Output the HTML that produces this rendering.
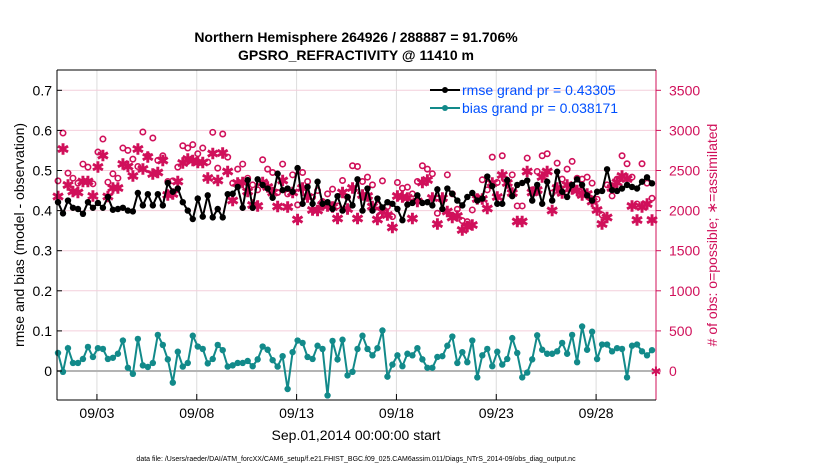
<!DOCTYPE html>
<html><head><meta charset="utf-8"><style>
body{margin:0;background:#fff;}
svg text{font-family:"Liberation Sans",sans-serif;}
</style></head><body>
<svg id="chart" width="830" height="470" xmlns="http://www.w3.org/2000/svg">
<rect width="830" height="470" fill="#fff"/>
<text x="356" y="42" text-anchor="middle" font-size="14" font-weight="bold">Northern Hemisphere 264926 / 288887 = 91.706%</text>
<text x="356" y="60" text-anchor="middle" font-size="14" font-weight="bold">GPSRO_REFRACTIVITY @ 11410 m</text>
<g id="grid"></g>
<g id="marks"></g>
<g id="axes"></g>
<text transform="translate(24,235) rotate(-90)" text-anchor="middle" font-size="14">rmse and bias (model - observation)</text>
<text transform="translate(717,235) rotate(-90)" text-anchor="middle" font-size="14" fill="#d0105a"># of obs: o=possible; ∗=assimilated</text>
<text x="356" y="440" text-anchor="middle" font-size="14">Sep.01,2014 00:00:00 start</text>
<text x="356" y="461" text-anchor="middle" font-size="7">data file: /Users/raeder/DAI/ATM_forcXX/CAM6_setup/f.e21.FHIST_BGC.f09_025.CAM6assim.011/Diags_NTrS_2014-09/obs_diag_output.nc</text>
<g>
<line x1="430" y1="90" x2="460" y2="90" stroke="#000" stroke-width="2"/><circle cx="445" cy="90" r="3" fill="#000"/>
<text x="462" y="95" font-size="14" fill="#0050ff">rmse grand pr = 0.43305</text>
<line x1="430" y1="108" x2="460" y2="108" stroke="#128a8a" stroke-width="2"/><circle cx="445" cy="108" r="3" fill="#128a8a"/>
<text x="462" y="113" font-size="14" fill="#0050ff">bias grand pr = 0.038171</text>
</g>
</svg>
<script>
const rmse=[.421,.393,.425,.407,.404,.392,.421,.407,.419,.407,.434,.402,.404,.407,.400,.398,.444,.413,.441,.413,.441,.413,.469,.447,.455,.421,.400,.379,.430,.385,.438,.383,.404,.383,.441,.442,.459,.407,.476,.407,.478,.464,.455,.432,.492,.451,.455,.447,.506,.417,.459,.417,.472,.417,.421,.404,.436,.400,.434,.413,
.478,.400,.455,.400,.430,.408,.421,.417,.404,.376,.415,.419,.438,.419,.421,.413,.453,.404,.455,.442,.425,.413,.434,.444,.425,.430,.485,.461,.417,.417,.476,.436,.464,.469,.475,.425,.464,.417,.472,.425,.497,.447,.434,.464,.478,.464,.438,.425,.447,.449,.503,.451,.449,.455,.464,.459,.455,.472,.483,.468];
const bias=[.045,-.002,.057,.020,.020,.030,.060,.035,.057,.055,.030,.033,.043,.076,.008,-.007,.080,.014,.010,.020,.090,.065,.029,-.029,.048,.011,.020,.088,.061,.055,.019,.030,.065,.052,.011,.014,.020,.020,.025,.012,.029,.061,.053,.027,.011,.037,-.045,.047,.076,.070,.035,.030,.063,.055,-.061,.075,.029,.078,-.011,-.002,
.055,.088,.055,.039,.057,.101,-.014,.016,.039,.012,.043,.039,.057,.029,.008,.008,.035,.037,.063,.086,.020,.047,.022,.076,-.016,.039,.055,.012,.048,.016,.030,.082,.045,-.016,-.004,.029,.089,.053,.043,.043,.049,.070,.043,.090,.022,.111,.053,.098,.030,.066,.066,.049,.057,.055,-.016,.063,.066,.049,.039,.052];
const possible=[2371,2967,2467,2404,2342,2580,2542,2334,2730,2892,2354,2459,2404,2780,2751,2642,2550,2980,2684,2905,2626,2684,2363,2371,2542,2809,2780,2822,2709,2780,2605,2976,2530,2955,2667,2342,2517,2580,2404,2321,2259,2634,2517,2475,2225,2580,2209,2446,2071,2475,2363,2167,2250,2113,2209,2267,2058,2375,2167,2559,
2550,2363,2417,2321,2071,2371,2050,1925,2350,2279,2292,2209,2363,2559,2517,2459,1967,2125,2446,2209,2017,1875,1862,2008,2167,2384,2259,2667,2350,2684,2363,2446,2058,2058,2655,2259,2488,2684,2709,2217,2592,2392,2517,2613,2404,2392,2417,2342,2142,1946,2321,2183,2392,2684,2584,2417,2083,2584,2342,2154];
const assimilated=[2175,2767,2321,2238,2225,2363,2363,2183,2542,2684,2175,2279,2279,2584,2550,2434,2767,2517,2667,2459,2475,2626,2196,2209,2363,2592,2642,2626,2600,2600,2404,2709,2375,2717,2488,2125,2342,2350,2238,2071,2058,2350,2292,2225,2050,2375,2042,2225,1892,2279,2167,2008,2000,2071,2058,2042,1904,2225,2017,2279,
1904,2196,2183,2050,1892,1988,1946,1792,2183,2167,2154,1904,2113,2350,2384,2154,1833,2154,1988,1917,1933,1758,1800,1821,2142,2142,2029,2342,2167,2446,2342,2217,1862,1862,2488,2225,2259,2417,2488,2000,2279,2217,2321,2267,2250,2196,2209,2113,2008,1833,1917,2279,2350,2434,2392,2058,1883,2042,2083,1883];
const leftTicks=[0,0.1,0.2,0.3,0.4,0.5,0.6,0.7];
const rightTicks=[0,500,1000,1500,2000,2500,3000,3500];
const dateTicks=[2,7,12,17,22,27];
const dateLabels=["09/03","09/08","09/13","09/18","09/23","09/28"];
const X0=57,X1=656,Y0=70,Y1=400,NDAYS=30;
const xs=d=>X0+d/NDAYS*(X1-X0);
const yL=v=>371-v*401;
const yR=c=>371-c*0.0802;
const tOf=i=>(i+0.2)/4;
const NS="http://www.w3.org/2000/svg";
function mk(p,tag,a){const e=document.createElementNS(NS,tag);for(const k in a)e.setAttribute(k,a[k]);p.appendChild(e);return e;}
const grid=document.getElementById('grid'),marks=document.getElementById('marks'),axes=document.getElementById('axes');
dateTicks.forEach((d,i)=>{
 const l=mk(grid,'line',{x1:xs(d),x2:xs(d),y1:Y0,y2:Y1,stroke:'#dcdcdc','stroke-width':1});
 
 
 const t=mk(axes,'text',{x:xs(d),y:418,'text-anchor':'middle','font-size':14});
 t.textContent=dateLabels[i];
 
 
 mk(axes,'line',{x1:xs(d),x2:xs(d),y1:Y1,y2:Y1-6,stroke:'#000'});
});
rightTicks.forEach(c=>{
 const l=mk(grid,'line',{x1:X0,x2:X1,y1:yR(c),y2:yR(c),stroke:'#f4cfdc','stroke-width':1});
 
 
 const t=mk(axes,'text',{x:669,y:yR(c)+5,'font-size':14,fill:'#d0105a'});
 t.textContent=c;
 
 
 mk(axes,'line',{x1:X1,x2:X1+5,y1:yR(c),y2:yR(c),stroke:'#d0105a'});
});
leftTicks.forEach(v=>{
 const t=mk(axes,'text',{x:52,y:yL(v)+5,'text-anchor':'end','font-size':14});
 t.textContent=v===0?'0':String(v);
 
 
 mk(axes,'line',{x1:X0,x2:X0+5,y1:yL(v),y2:yL(v),stroke:'#000'});
});
const zl=mk(grid,'line',{x1:X0,x2:X1,y1:yL(0),y2:yL(0),stroke:'#b4b4b4','stroke-width':2});


const la=mk(axes,'line',{x1:X0,x2:X0,y1:Y0,y2:Y1,stroke:'#000'});


const ra=mk(axes,'line',{x1:X1,x2:X1,y1:Y0,y2:Y1,stroke:'#d0105a'});


mk(axes,'line',{x1:X0,x2:X1,y1:Y1,y2:Y1,stroke:'#000'});
mk(axes,'line',{x1:X0,x2:X1,y1:Y0,y2:Y0,stroke:'#000'});
const cr='#d0105a';
possible.forEach((c,i)=>{
 const e=mk(marks,'circle',{cx:xs(tOf(i)),cy:yR(c),r:2.7,fill:'none',stroke:cr,'stroke-width':1.6});
 
 
});
assimilated.forEach((c,i)=>{
 const e=mk(marks,'text',{x:xs(tOf(i)),y:yR(c)+5.5,'text-anchor':'middle','font-size':15,'font-weight':'bold',fill:cr});
 e.textContent='✱';
 
 
});
function series(vals,col,name){
 const pts=vals.map((v,i)=>xs(tOf(i)).toFixed(1)+','+yL(v).toFixed(1)).join(' ');
 const pl=mk(marks,'polyline',{points:pts,fill:'none',stroke:col,'stroke-width':2});
 
 
 vals.forEach((v,i)=>{
  const c=mk(marks,'circle',{cx:xs(tOf(i)),cy:yL(v),r:3.2,fill:col});
  
  
 });
}
series(rmse,'#000','rmse');
series(bias,'#128a8a','bias');
const em=mk(marks,'text',{x:X1,y:yL(0)+5,'text-anchor':'middle','font-size':13,fill:cr});
em.textContent='✱';


</script>
</body></html>
